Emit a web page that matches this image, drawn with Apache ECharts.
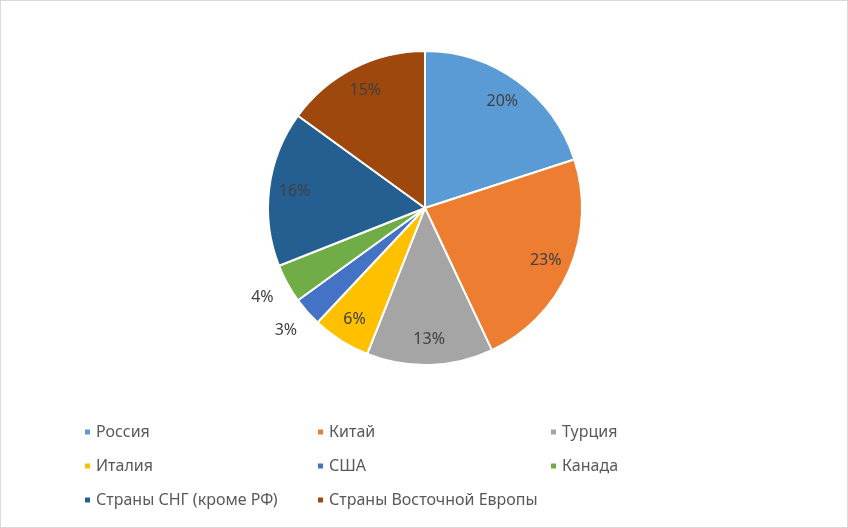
<!DOCTYPE html>
<html>
<head>
<meta charset="utf-8">
<script src="https://cdn.jsdelivr.net/npm/echarts@6/dist/echarts.min.js"></script>
<style>
  html, body { margin: 0; padding: 0; background: #fff; }
  #main { width: 846px; height: 526px; border: 1px solid #d9d9d9; }
</style>
</head>
<body>
<div id="main"></div>
<script>
const countries = ['Россия', 'Китай', 'Турция', 'Италия', 'США', 'Канада', 'Страны СНГ (кроме РФ)', 'Страны Восточной Европы'];
const shares = [20, 23, 13, 6, 3, 4, 16, 15];
const colors = ['#5b9bd5', '#ed7d31', '#a5a5a5', '#ffc000', '#4472c4', '#70ad47', '#255e91', '#9e480e'];
const outsideLabels = ['США', 'Канада'];

const font = 'Noto Sans';
const center = [424, 207];

const pieData = countries.map((name, i) => ({ name, value: shares[i] }));

const chart = echarts.init(document.getElementById('main'));

const legendCol = (names, left) => ({
    orient: 'vertical',
    left: left,
    top: 416,
    itemWidth: 7,
    itemHeight: 7,
    itemGap: 14,
    icon: 'rect',
    data: names,
    textStyle: { fontFamily: font, fontSize: 16, color: '#595959', lineHeight: 20 }
});

chart.setOption({
    color: colors,
    animation: false,
    legend: [
        legendCol(['Россия', 'Италия', 'Страны СНГ (кроме РФ)'], 77),
        legendCol(['Китай', 'США', 'Страны Восточной Европы'], 310),
        legendCol(['Турция', 'Канада'], 543)
    ],
    series: [
        {
            type: 'pie',
            center: center,
            radius: [0, 157],
            startAngle: 90,
            clockwise: true,
            label: { show: false },
            labelLine: { show: false },
            itemStyle: { borderColor: '#fff', borderWidth: 2 },
            data: pieData
        },
        {
            // inner labels
            type: 'pie',
            center: center,
            radius: [100, 157],
            startAngle: 90,
            silent: true,
            legendHoverLink: false,
            itemStyle: { color: 'transparent' },
            label: {
                position: 'inside',
                formatter: '{c}%',
                fontFamily: font,
                fontSize: 16,
                color: '#404040'
            },
            data: pieData.map(d => ({
                name: d.name + ' ',
                value: d.value,
                label: { show: outsideLabels.indexOf(d.name) < 0 }
            }))
        },
        {
            // outside labels for thin slices
            type: 'pie',
            center: center,
            radius: [157, 208],
            startAngle: 90,
            silent: true,
            legendHoverLink: false,
            itemStyle: { color: 'transparent' },
            label: {
                position: 'inside',
                formatter: '{c}%',
                fontFamily: font,
                fontSize: 16,
                color: '#404040'
            },
            data: pieData.map(d => ({
                name: d.name + '  ',
                value: d.value,
                label: { show: outsideLabels.indexOf(d.name) >= 0 }
            }))
        }
    ]
});
</script>
</body>
</html>
